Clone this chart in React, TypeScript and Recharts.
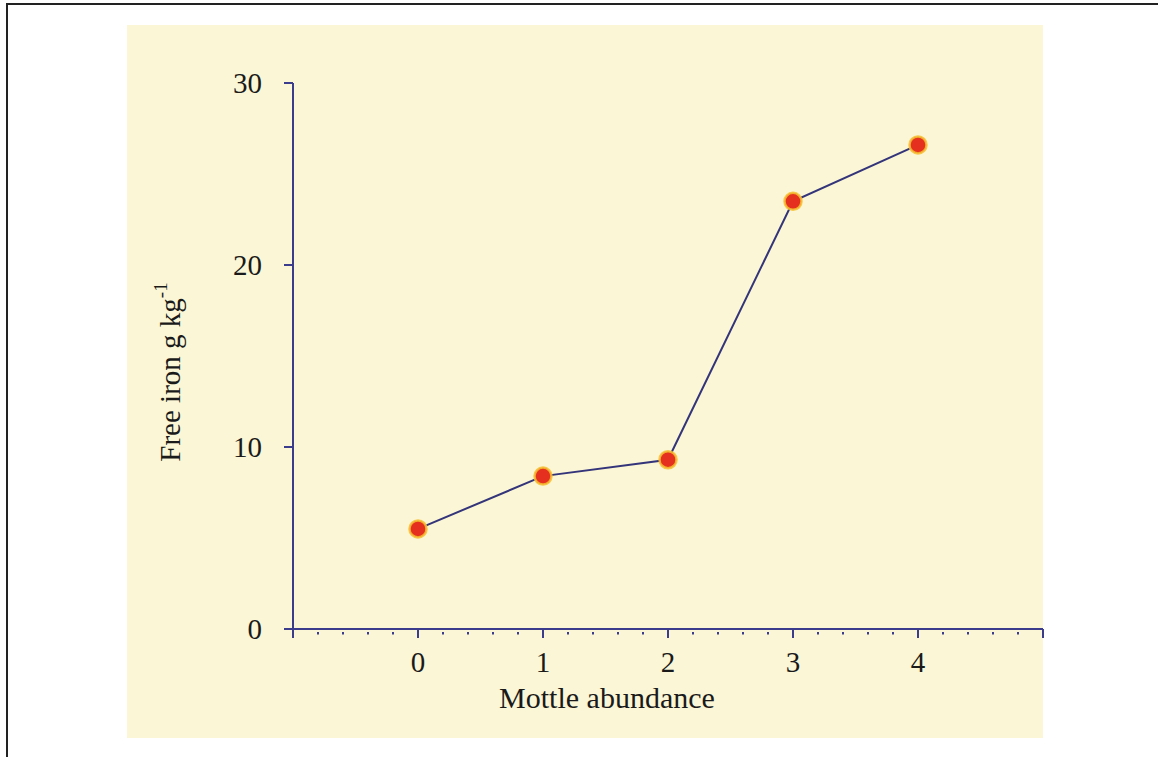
import { LineChart, Line, XAxis, YAxis } from "recharts";

const mottle = [0, 1, 2, 3, 4];
const freeIron = [5.5, 8.4, 9.3, 23.5, 26.6];
const yTicks = [0, 10, 20, 30];
const xLabels = [0, 1, 2, 3, 4];

const data = mottle.map((m, i) => ({ x: m, y: freeIron[i] }));

// major ticks at every unit, small dots every 0.2
const xTicks = Array.from({ length: 31 }, (_, i) => Math.round((-1 + i * 0.2) * 10) / 10);

const axisColor = "#3b3c8c";
const font = "'Liberation Serif', 'Times New Roman', serif";

function XTick(props: any) {
  const { x, y, payload } = props;
  const v = payload.value;
  if (Number.isInteger(v)) {
    return (
      <g>
        <line x1={x} y1={y} x2={x} y2={y + 9} stroke={axisColor} strokeWidth={2} />
        {xLabels.includes(v) && (
          <text x={x} y={y + 43} textAnchor="middle" fontSize={29} fontFamily={font} fill="#1a1a1a">
            {v}
          </text>
        )}
      </g>
    );
  }
  return <rect x={x - 1} y={y + 3} width={2} height={2.5} fill={axisColor} />;
}

function YLabel() {
  return (
    <text
      x={180}
      y={372}
      transform="rotate(-90 180 372)"
      textAnchor="middle"
      fontSize={29}
      fontFamily={font}
      fill="#1a1a1a"
    >
      Free iron g kg
      <tspan dy={-13} fontSize={19}>-1</tspan>
    </text>
  );
}

function XLabel() {
  return (
    <text x={607} y={708} textAnchor="middle" fontSize={30} fontFamily={font} fill="#1a1a1a">
      Mottle abundance
    </text>
  );
}

export default function App() {
  return (
    <div style={{ position: "absolute", left: 0, top: 0, width: 1158, height: 757, background: "#fff" }}>
      <div
        style={{
          position: "absolute",
          left: 6,
          top: 3,
          right: 0,
          bottom: 0,
          borderTop: "2px solid #222",
          borderLeft: "2px solid #222",
        }}
      />
      <div style={{ position: "absolute", left: 127, top: 25, width: 916, height: 713, background: "#fbf6d5" }} />
      <div style={{ position: "absolute", left: 0, top: 0 }}>
        <LineChart width={1158} height={757} data={data} margin={{ top: 83, right: 115, bottom: 68, left: 173 }}>
          <XAxis
            dataKey="x"
            type="number"
            domain={[-1, 5]}
            ticks={xTicks}
            interval={0}
            tickSize={0}
            tickMargin={0}
            tickLine={false}
            tick={<XTick />}
            height={60}
            axisLine={{ stroke: axisColor, strokeWidth: 2 }}
            label={<XLabel />}
          />
          <YAxis
            type="number"
            domain={[0, 30]}
            ticks={yTicks}
            width={120}
            tickSize={9}
            tickMargin={22}
            axisLine={{ stroke: axisColor, strokeWidth: 2 }}
            tickLine={{ stroke: axisColor, strokeWidth: 2 }}
            tick={{ fontSize: 29, fontFamily: font, fill: "#1a1a1a" }}
            label={<YLabel />}
          />
          <Line
            dataKey="y"
            type="linear"
            stroke="#33347a"
            strokeWidth={2}
            isAnimationActive={false}
            dot={{ r: 8.5, fill: "#e5301f", stroke: "#f6c030", strokeWidth: 2.5, strokeOpacity: 0.85 }}
            activeDot={false}
          />
        </LineChart>
      </div>
    </div>
  );
}
